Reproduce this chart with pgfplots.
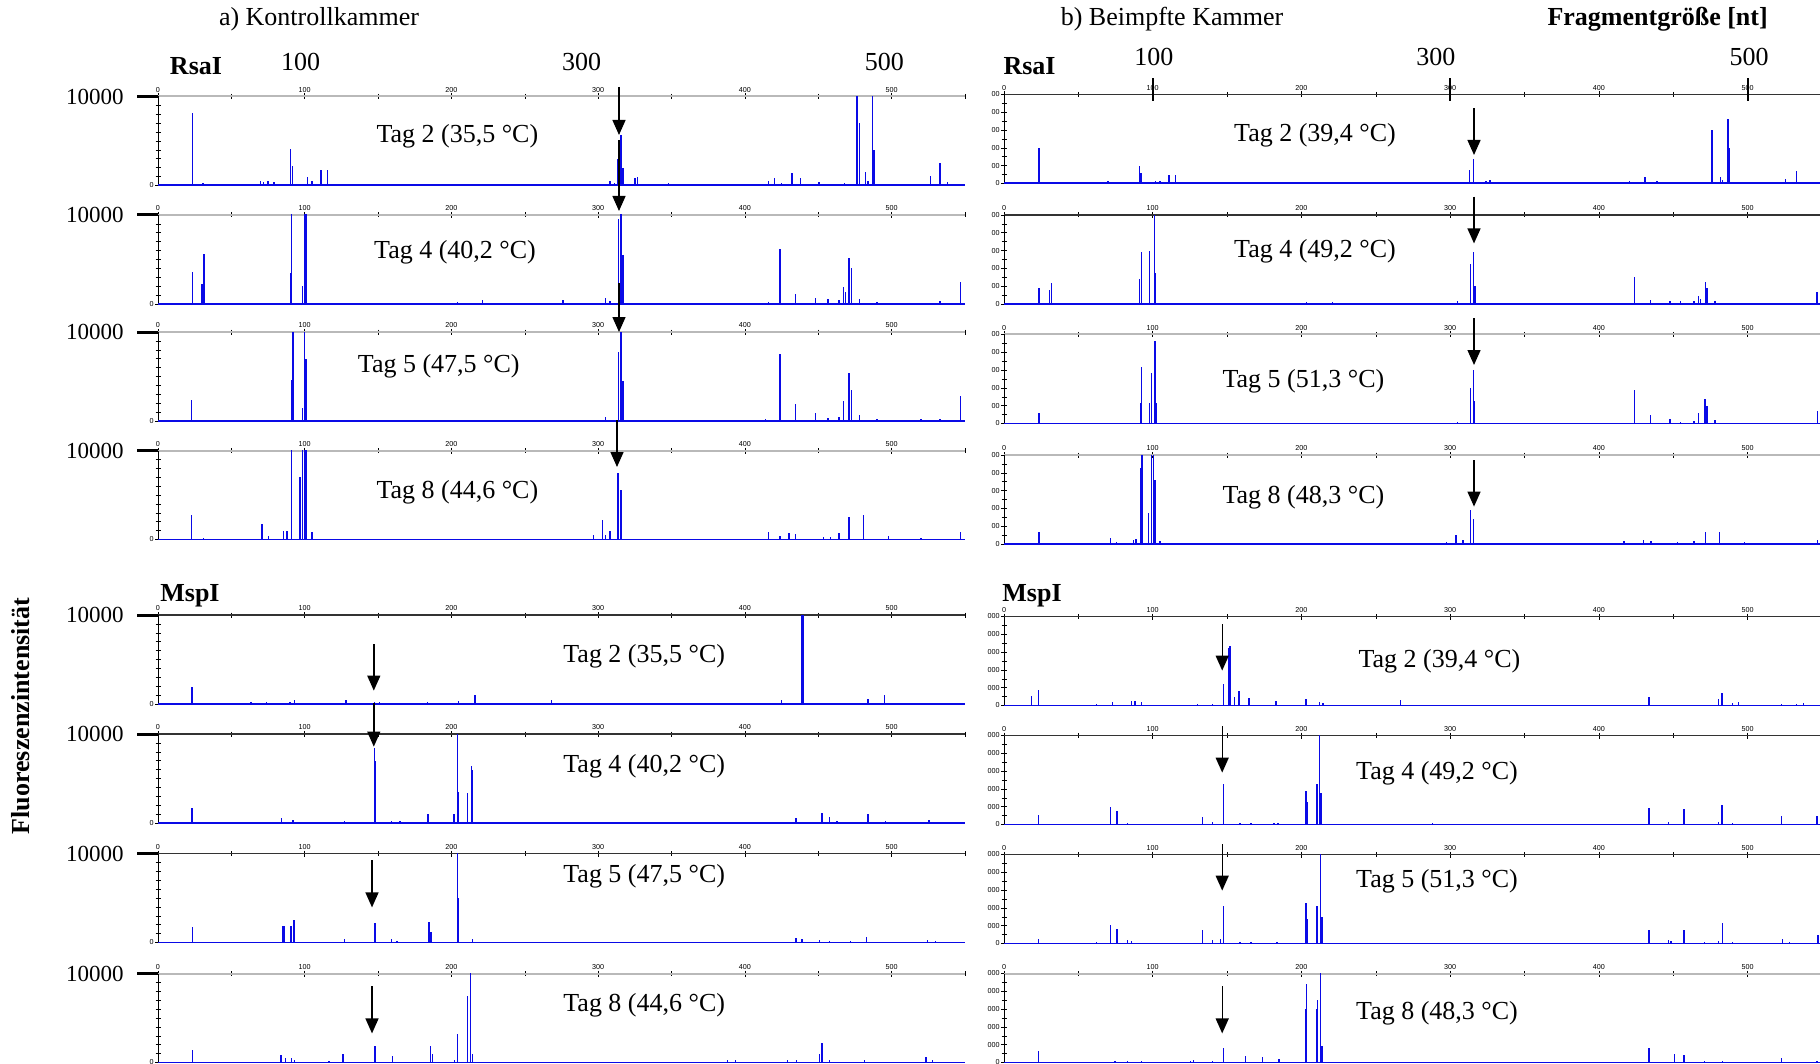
\documentclass[border=0pt]{standalone}
\usepackage{pgfplots}
\pgfplotsset{compat=1.18}
\usepackage{fontspec}
\setmainfont{Liberation Serif}
\newfontfamily\tickfont{Liberation Sans}
\usetikzlibrary{arrows.meta}
\definecolor{trace}{RGB}{10,10,230}
\pgfplotsset{
  ep/.style={scale only axis, height=44.5pt, xmin=0, xmax=550, ymin=0, ymax=10000,
    axis x line*=top, axis y line*=left, scaled y ticks=false, scaled x ticks=false,
    xtick={0,100,200,300,400,500}, xticklabels={0,100,200,300,400,500},
    minor xtick={50,150,250,350,450,550},
    tick align=center, major tick length=3pt, minor tick length=2.5pt,
    tick style={black, line width=0.3pt},
    ticklabel style={font=\tickfont\fontsize{3.6}{4}\selectfont, inner sep=0.5pt},
    x axis line style={line width=1pt, gray!55},
    y axis line style={line width=0.4pt, black},
    clip mode=individual, anchor=north west,
  },
  dark/.style={x axis line style={line width=0.8pt, gray!40!black}},
  epL/.style={ep, width=403.5pt, ytick={0}, yticklabels={0}, minor ytick={1000,2000,...,9000},
    extra y ticks={10000}, extra y tick labels={10000},
    extra y tick style={tick align=outside, major tick length=10.5pt,
      tick style={line width=1.5pt, black},
      yticklabel style={font=\fontsize{11.5}{13}\selectfont, xshift=-6pt}}},
  epR/.style={ep, width=409pt, ytick={0,2000,4000,6000,8000,10000}, minor ytick={1000,3000,5000,7000,9000}},
  rsa/.style={yticklabels={0,00,00,00,00,00}},
  msp/.style={yticklabels={0,000,000,000,000,000}},
}
\newcommand{\tr}[1]{\addplot[trace, line width=0.7pt, ycomb, no marks] coordinates {#1};
  \addplot[trace, line width=1pt, no marks] coordinates {(0,0) (550,0)};}
\tikzset{dn/.style={-{Triangle[length=7.5pt,width=6.5pt]}, line width=0.7pt, black},
  tag/.style={font=\fontsize{13}{15}\selectfont}}
\begin{document}
\begin{tikzpicture}
\useasboundingbox (0,0) rectangle (910pt,-532pt);
% ---------------- left RsaI ----------------
\begin{axis}[epL, at={(79pt,-48.25pt)}]
\tr{(23.4,8100) (30.6,300) (70,500) (72,400) (75,500) (79,400) (90.4,4100) (91.7,2200) (102,1000) (105,500) (111,1700) (115.5,1700) (283.6,200) (308,500) (311,300) (313.4,3000) (315.5,5700) (317,2000) (325,800) (327,900) (348,300) (416,500) (420,800) (425,300) (432,1400) (438,800) (450.5,400) (468,300) (476.4,12000) (478,7000) (482,1500) (484,500) (487,12000) (488,4000) (499,200) (526.5,1100) (533,2500) (538,400) (548,200)}
\end{axis}
\begin{axis}[epL, at={(79pt,-107.5pt)}]
\tr{(23.4,3600) (30,2200) (31.4,5600) (90.4,3500) (91,12000) (98.5,2000) (100,12000) (101,12000) (204,200) (221,400) (276,400) (305,700) (308,300) (314,9500) (315.5,12000) (317,5500) (416,200) (424,6200) (434.5,1100) (448,700) (456.5,600) (464,500) (467,1900) (468.6,1400) (471,5200) (472.5,4000) (478,600) (490,200) (533,300) (547,2500)}
\end{axis}
\begin{axis}[epL, at={(79pt,-166pt)}]
\tr{(23,2400) (91,4600) (92,12000) (98.5,1500) (100,12000) (101,7000) (305,500) (314,7800) (315.5,12000) (317,4500) (414,200) (424,7500) (434.5,1900) (448,900) (456.5,300) (464,500) (467,2300) (471,5400) (472.5,3500) (478,700) (490,200) (520,200) (533,200) (547,2800)}
\end{axis}
\begin{axis}[epL, at={(79pt,-225.25pt)}]
\tr{(23,2800) (31,200) (71,1700) (75.5,400) (85.7,900) (88,1000) (91,12000) (96.8,7000) (98.5,12000) (100,12000) (101,12000) (105,800) (297,500) (303,2200) (305,500) (308,1000) (313.4,7500) (315.5,5600) (416,800) (424,400) (430,700) (434.5,600) (453.5,300) (458.5,300) (464,700) (471,2500) (480.7,2800) (497.7,400) (520,200) (547,800)}
\end{axis}
% ---------------- left MspI ----------------
\begin{axis}[epL, dark, at={(79pt,-307.5pt)}]
\tr{(23.3,1900) (63.5,200) (74,200) (90,200) (93,400) (128,400) (147.5,200) (151,200) (183.5,200) (204.7,300) (216,1000) (268,400) (425,400) (439,12000) (440,12000) (472.5,100) (484,600) (495,1000)}
\end{axis}
\begin{axis}[epL, dark, at={(79pt,-367pt)}]
\tr{(23.3,1700) (84,600) (92,300) (127,200) (147.5,8400) (148.3,7000) (159,200) (165,200) (184,1000) (201.7,1000) (204,12000) (205,3500) (211,3400) (213.6,6400) (214.4,6000) (434.7,600) (452.5,1100) (457.6,700) (462.7,200) (484,1000) (496,200) (525.6,300)}
\end{axis}
\begin{axis}[epL, dark, at={(79pt,-426.75pt)}]
\tr{(23.7,1700) (33,100) (84.7,1800) (86,1800) (90.7,1800) (92.8,2500) (127,400) (148,2200) (159,400) (163,200) (184.7,2300) (186,1200) (204,12000) (204.7,5000) (214.4,400) (434.7,500) (439,400) (450.8,300) (457.6,200) (472,200) (483,600) (524.6,300) (530,200)}
\end{axis}
\begin{axis}[epL, at={(79pt,-486.75pt)}]
\tr{(23.7,1400) (83.9,800) (87,500) (91,500) (93,300) (116.5,200) (126,1000) (148,1800) (160,700) (185.6,1800) (187,1000) (202,300) (204.2,3200) (211,7500) (213,12000) (214.4,1000) (388,300) (393.6,300) (429,300) (435,300) (451,1000) (452.5,2200) (457.6,300) (481.4,300) (523.3,600) (528,300)}
\end{axis}
% ---------------- right RsaI ----------------
\begin{axis}[epR, rsa, dark, at={(502pt,-47.25pt)}]
\tr{(23.5,4000) (30.5,200) (70,300) (73,200) (76.5,200) (79.5,200) (91,2000) (92,1200) (102,300) (105,300) (111,900) (115.5,900) (231,100) (306.5,200) (313,1500) (315.7,2700) (324,300) (326.7,400) (347,100) (416,200) (420.5,300) (431,700) (439,300) (450,200) (467,100) (476,6000) (481.6,700) (483,400) (486.8,7200) (488,4000) (499,100) (525.5,500) (533,1400) (538,200)}
\draw[line width=0.9pt, black] ([yshift=8pt]axis cs:100,10000) -- ([yshift=-3.5pt]axis cs:100,10000);
\draw[line width=0.9pt, black] ([yshift=8pt]axis cs:300,10000) -- ([yshift=-3.5pt]axis cs:300,10000);
\draw[line width=0.9pt, black] ([yshift=8pt]axis cs:500,10000) -- ([yshift=-3.5pt]axis cs:500,10000);
\end{axis}
\begin{axis}[epR, rsa, dark, at={(502pt,-107.5pt)}]
\tr{(23.5,1800) (30.5,1600) (32,2400) (91.2,2800) (92.3,5800) (98,6000) (101.2,10000) (102,3500) (203.5,200) (221,200) (275.6,100) (305,300) (313.5,4500) (315.7,5800) (316.8,2000) (424,3000) (434.5,500) (447.8,300) (455,300) (464,300) (467,900) (468.5,600) (471.7,2500) (472.8,1800) (478,300) (546.7,1300)}
\end{axis}
\begin{axis}[epR, rsa, at={(502pt,-167.25pt)}]
\tr{(23.5,1200) (91.6,2300) (92.3,6400) (98,2300) (99.3,5700) (101.5,9300) (102.3,2300) (305,200) (313.5,4000) (315.7,6000) (316.4,2500) (424,3800) (434.5,1000) (447.8,500) (455,200) (464,300) (467,1200) (471.3,2800) (472.8,2000) (478,400) (547,1400)}
\end{axis}
\begin{axis}[epR, rsa, at={(502pt,-227.5pt)}]
\tr{(23.5,1400) (71.7,700) (75.5,200) (87,500) (88.7,600) (91.6,8500) (92.7,12000) (97,3500) (99,12000) (100.4,12000) (101.5,7200) (105,300) (297.6,200) (304,1000) (308.7,500) (313.8,3800) (315.7,2800) (416.8,300) (424,100) (430,400) (435,300) (453,200) (464,300) (471.7,1300) (481,1400) (498,200) (547,400)}
\end{axis}
% ---------------- right MspI ----------------
\begin{axis}[epR, msp, dark, at={(502pt,-308.25pt)}]
\tr{(8.5,100) (18.4,1100) (23.2,1700) (30,100) (62,200) (73,400) (85.7,500) (88,500) (92.3,400) (130,200) (140,200) (147.5,2400) (151,6500) (152,6700) (155,1000) (158,1600) (164.8,800) (183,500) (203,700) (212,400) (214.5,300) (266.7,600) (433.8,900) (461.4,100) (480.5,700) (482.7,1400) (489.8,300) (493.8,400) (522.8,200) (532.8,200) (537.5,300)}
\end{axis}
\begin{axis}[epR, msp, dark, at={(502pt,-367.75pt)}]
\tr{(23.2,1100) (71.4,2000) (76,1500) (83,200) (133.5,800) (140,300) (147.5,4500) (158.6,200) (166,200) (181.4,200) (184.3,200) (203,3800) (203.8,2500) (210.4,4500) (212,12000) (213,3500) (288,200) (433.8,1800) (446.6,300) (457.3,1700) (480.5,300) (482.7,2200) (489.8,200) (522.8,900) (546.7,1000)}
\end{axis}
\begin{axis}[epR, msp, dark, at={(502pt,-427.25pt)}]
\tr{(23.2,500) (62,200) (71.4,2100) (76,1600) (83,400) (85.7,300) (133.5,1500) (140,400) (145.7,500) (147.5,4200) (158.6,200) (166,200) (183.5,200) (203,4500) (203.8,2700) (210.4,4200) (212.6,12000) (213.7,3000) (288,100) (433.8,1500) (446.6,400) (448.4,300) (457.3,1500) (471,200) (480.5,300) (483,2300) (489.8,200) (523.5,500) (528.3,200) (547.4,1000)}
\end{axis}
\begin{axis}[epR, msp, at={(502pt,-486.75pt)}]
\tr{(23.2,1300) (74.7,200) (83,200) (92.3,200) (125.5,200) (127.3,300) (140,200) (147.5,1600) (162.3,700) (174,600) (185,400) (202.7,6000) (203.4,8800) (210,6000) (210.8,7000) (212.6,12000) (213.7,1800) (386.7,100) (433.8,1600) (451,1000) (457.3,800) (471,200) (483,200) (522.8,500) (546.7,200)}
\end{axis}
% ---------------- texts ----------------
\node[tag] at (159.5pt,-9.5pt) {a) Kontrollkammer};
\node[tag] at (586pt,-9.5pt) {b) Beimpfte Kammer};
\node[tag, font=\fontsize{13}{15}\selectfont\bfseries] at (828.8pt,-9.5pt) {Fragmentgröße [nt]};
\node[tag, font=\fontsize{13}{15}\selectfont\bfseries] at (98pt,-33pt) {RsaI};
\node[tag, font=\fontsize{13}{15}\selectfont\bfseries] at (514.8pt,-33pt) {RsaI};
\node[tag, font=\fontsize{13}{15}\selectfont\bfseries] at (95pt,-297.7pt) {MspI};
\node[tag, font=\fontsize{13}{15}\selectfont\bfseries] at (516pt,-297.7pt) {MspI};
\node[tag] at (150.3pt,-30.8pt) {100};
\node[tag] at (290.8pt,-30.8pt) {300};
\node[tag] at (442.2pt,-30.8pt) {500};
\node[tag] at (576.9pt,-28.4pt) {100};
\node[tag] at (717.9pt,-28.4pt) {300};
\node[tag] at (874.5pt,-28.4pt) {500};
\node[tag, font=\fontsize{13}{15}\selectfont\bfseries, rotate=90] at (10.5pt,-358pt) {Fluoreszenzintensität};
% tag labels
\node[tag] at (228.7pt,-68pt) {Tag 2 (35,5 °C)};
\node[tag] at (227.5pt,-126pt) {Tag 4 (40,2 °C)};
\node[tag] at (219.4pt,-183pt) {Tag 5 (47,5 °C)};
\node[tag] at (228.7pt,-246.3pt) {Tag 8 (44,6 °C)};
\node[tag] at (322.1pt,-328.3pt) {Tag 2 (35,5 °C)};
\node[tag] at (322.1pt,-383.3pt) {Tag 4 (40,2 °C)};
\node[tag] at (322.1pt,-438pt) {Tag 5 (47,5 °C)};
\node[tag] at (322.1pt,-502.5pt) {Tag 8 (44,6 °C)};
\node[tag] at (657.5pt,-67.5pt) {Tag 2 (39,4 °C)};
\node[tag] at (657.5pt,-125.8pt) {Tag 4 (49,2 °C)};
\node[tag] at (651.7pt,-190.8pt) {Tag 5 (51,3 °C)};
\node[tag] at (651.7pt,-248.7pt) {Tag 8 (48,3 °C)};
\node[tag] at (719.7pt,-330.8pt) {Tag 2 (39,4 °C)};
\node[tag] at (718.5pt,-386.7pt) {Tag 4 (49,2 °C)};
\node[tag] at (718.5pt,-440.8pt) {Tag 5 (51,3 °C)};
\node[tag] at (718.5pt,-506.7pt) {Tag 8 (48,3 °C)};
% arrows
\draw[dn] (309.5pt,-43.5pt) -- (309.5pt,-67.5pt);
\draw[dn] (309.5pt,-70pt) -- (309.5pt,-105.5pt);
\draw[dn] (309.5pt,-141.5pt) -- (309.5pt,-166pt);
\draw[dn] (308.5pt,-210pt) -- (308.5pt,-233.5pt);
\draw[dn] (737pt,-54.2pt) -- (737pt,-77.5pt);
\draw[dn] (737pt,-98.3pt) -- (737pt,-121.7pt);
\draw[dn] (737pt,-159.2pt) -- (737pt,-182.5pt);
\draw[dn] (737pt,-230pt) -- (737pt,-253.3pt);
\draw[dn] (186.9pt,-322pt) -- (186.9pt,-345.3pt);
\draw[dn] (186.9pt,-351.7pt) -- (186.9pt,-373.3pt);
\draw[dn] (186pt,-430pt) -- (186pt,-453.7pt);
\draw[dn] (186pt,-493pt) -- (186pt,-516.7pt);
\draw[dn] (611.1pt,-312pt) -- (611.1pt,-335.3pt);
\draw[dn] (611.1pt,-363pt) -- (611.1pt,-386.3pt);
\draw[dn] (611.1pt,-422pt) -- (611.1pt,-445.3pt);
\draw[dn] (611.1pt,-493pt) -- (611.1pt,-516.7pt);
\end{tikzpicture}
\end{document}
